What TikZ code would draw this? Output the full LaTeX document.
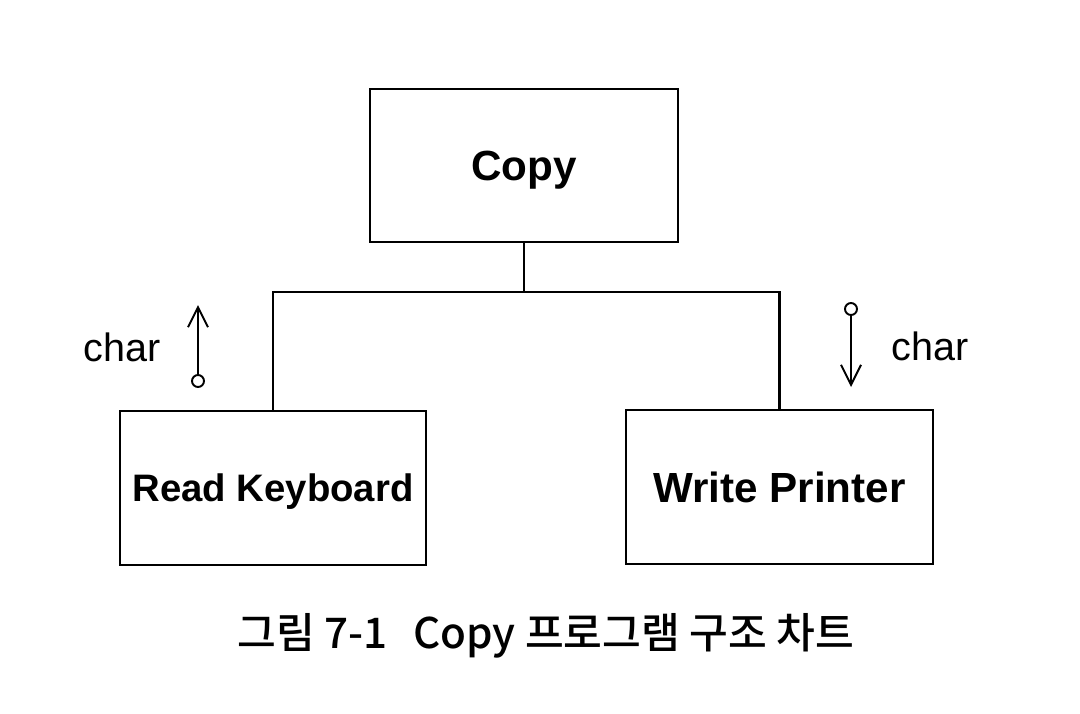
\documentclass[tikz,border=0pt]{standalone}
\usepackage{fontspec}
\setmainfont{Liberation Sans}
\newfontfamily\kr{Noto Sans CJK KR}[UprightFont=* Medium]
\usetikzlibrary{arrows.meta}
\begin{document}
\begin{tikzpicture}[x=0.02cm,y=-0.02cm,
  modbox/.style={draw,line width=1.6pt,inner sep=0pt,font=\bfseries\fontsize{24}{28}\selectfont},
  conn/.style={line width=1.3pt},
  flag/.style={draw,circle,line width=1.1pt,inner sep=0pt,minimum size=0.24cm},
  flow/.style={line width=1.1pt,-{Straight Barb[length=0.4cm,width=0.4cm,line width=1.1pt]}},
  lbl/.style={font=\fontsize{22.5}{26}\selectfont}]
\useasboundingbox (0,0) rectangle (1080,714);
\node[modbox,text depth=0pt,minimum width=6.16cm,minimum height=3.06cm] (copy) at (524,165.5) {Copy};
\node[modbox,text depth=0pt,minimum width=6.12cm,minimum height=3.08cm] (rk) at (273,488) {\fontsize{21.8}{26}\selectfont Read Keyboard};
\node[modbox,minimum width=6.14cm,minimum height=3.08cm] (wp) at (779.5,487) {Write Printer};
\coordinate (bus) at (524,292);
\draw[conn] (copy.south) -- (bus);
\draw[conn] (rk.north) |- (bus) -| (wp.north);
\node[flag] (lc) at (198,381) {};
\coordinate (lt) at (198,305);
\draw[flow] (lc) -- (lt);
\node[lbl] (lchar) at (122,347) {char};
\node[flag] (rc) at (851,309) {};
\coordinate (rt) at (851,387);
\draw[flow] (rc) -- (rt);
\node[lbl] (rchar) at (930,346) {char};
\node[font=\kr\fontsize{24}{28}\selectfont] (cap) at (546,636) {그림 7-1\hspace{0.6em}Copy 프로그램 구조 차트};
\end{tikzpicture}
\end{document}
